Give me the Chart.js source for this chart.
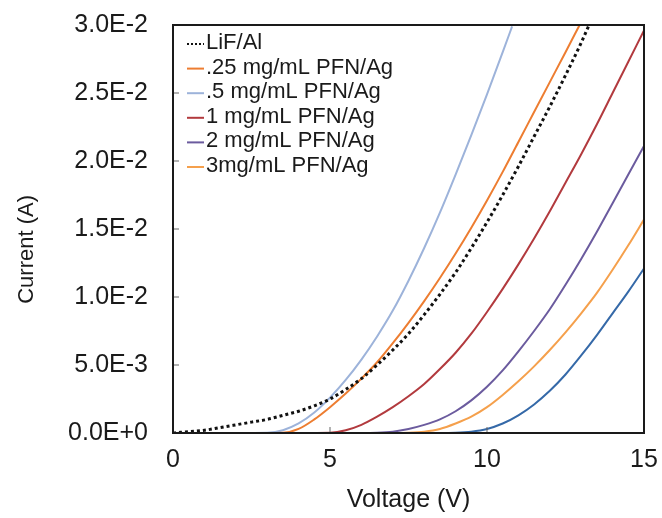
<!DOCTYPE html>
<html>
<head>
<meta charset="utf-8">
<script src="https://cdn.jsdelivr.net/npm/chart.js@4/dist/chart.umd.min.js"></script>
<style>
  body { margin: 0; background: #fff; }
  #wrap { width: 662px; height: 518px; }
</style>
</head>
<body>
<div id="wrap"><canvas id="chart" width="662" height="518"></canvas></div>
<script>
// Voltage (V) / current (A)
var lifV = [0, 0.5, 1, 1.5, 2, 2.5, 3, 3.5, 4, 4.5, 5, 5.5, 6, 6.5, 7, 7.5, 8, 8.5, 9, 9.5, 10, 10.5, 11, 11.5, 12, 12.5, 13, 13.25];
var lifI = [0, 0.0001, 0.0002, 0.0004, 0.0006, 0.0008, 0.0010, 0.0013, 0.0016, 0.0020, 0.0025, 0.0032, 0.0040, 0.0050, 0.0061, 0.0073, 0.0087, 0.0102, 0.0118, 0.0136, 0.0155, 0.0175, 0.0196, 0.0218, 0.0240, 0.0263, 0.0287, 0.0300];

var pfn025V = [0, 2, 3, 3.5, 4, 4.5, 5, 5.5, 6, 6.5, 7, 7.5, 8, 8.5, 9, 9.5, 10, 10.5, 11, 11.5, 12, 12.5, 12.95];
var pfn025I = [0, 0, 0, 0.00002, 0.0003, 0.0010, 0.0019, 0.0029, 0.0040, 0.0052, 0.0066, 0.0081, 0.0097, 0.0114, 0.0132, 0.0151, 0.0171, 0.0192, 0.0214, 0.0236, 0.0258, 0.0280, 0.0300];

var pfn05V = [0, 2, 3, 3.5, 4, 4.5, 5, 5.5, 6, 6.5, 7, 7.5, 8, 8.5, 9, 9.5, 10, 10.5, 10.8];
var pfn05I = [0, 0, 0.00002, 0.0002, 0.0007, 0.0015, 0.0026, 0.0039, 0.0054, 0.0071, 0.0090, 0.0112, 0.0136, 0.0162, 0.0190, 0.0219, 0.0249, 0.0280, 0.0299];

var pfn1V = [0, 4, 5, 5.5, 6, 6.5, 7, 7.5, 8, 8.5, 9, 9.5, 10, 10.5, 11, 11.5, 12, 12.5, 13, 13.5, 14, 14.5, 15];
var pfn1I = [0, 0, 0.00002, 0.0002, 0.0006, 0.0012, 0.0019, 0.0027, 0.0036, 0.0047, 0.0059, 0.0073, 0.0089, 0.0106, 0.0124, 0.0143, 0.0163, 0.0184, 0.0205, 0.0227, 0.0250, 0.0273, 0.0296];

var pfn2V = [0, 6, 6.5, 7, 7.5, 8, 8.5, 9, 9.5, 10, 10.5, 11, 11.5, 12, 12.5, 13, 13.5, 14, 14.5, 15];
var pfn2I = [0, 0, 0.00002, 0.0001, 0.0003, 0.0006, 0.0010, 0.0016, 0.0024, 0.0034, 0.0046, 0.0060, 0.0075, 0.0091, 0.0109, 0.0128, 0.0148, 0.0169, 0.0190, 0.0211];

var pfn3V = [0, 7, 7.5, 8, 8.5, 9, 9.5, 10, 10.5, 11, 11.5, 12, 12.5, 13, 13.5, 14, 14.5, 15];
var pfn3I = [0, 0, 0.00002, 0.0001, 0.0003, 0.0007, 0.0012, 0.0019, 0.0028, 0.0038, 0.0049, 0.0061, 0.0074, 0.0088, 0.0103, 0.0120, 0.0138, 0.0157];

// curve with no legend entry
var extraV = [0, 8.5, 9, 9.5, 10, 10.5, 11, 11.5, 12, 12.5, 13, 13.5, 14, 14.5, 15];
var extraI = [0, 0, 0.00002, 0.0001, 0.0003, 0.0007, 0.0013, 0.0021, 0.0031, 0.0043, 0.0057, 0.0072, 0.0088, 0.0104, 0.0121];

var xTicks = [0, 5, 10, 15];

var FONT = "'Liberation Sans', Arial, sans-serif";

function pts(xs, ys) {
  var out = [];
  for (var i = 0; i < xs.length; i++) out.push({ x: xs[i], y: ys[i] });
  return out;
}

function series(label, xs, ys, color, extra) {
  var ds = {
    label: label,
    data: pts(xs, ys),
    borderColor: color,
    backgroundColor: color,
    borderWidth: 2,
    pointRadius: 0,
    fill: false,
    cubicInterpolationMode: "monotone"
  };
  for (var k in extra || {}) ds[k] = extra[k];
  return ds;
}

// frame + inner tick marks + y title
var frame = {
  id: "frame",
  afterDatasetsDraw: function(chart) {
    var a = chart.chartArea, ctx = chart.ctx;
    var ys = chart.scales.y, xs = chart.scales.x;
    ctx.save();
    ctx.lineWidth = 1;
    ctx.strokeStyle = "#666";
    ys.ticks.forEach(function(t) {
      var p = ys.getPixelForValue(t.value);
      ctx.beginPath(); ctx.moveTo(a.left, p); ctx.lineTo(a.left + 6, p); ctx.stroke();
    });
    xTicks.forEach(function(v) {
      var p = xs.getPixelForValue(v);
      ctx.beginPath(); ctx.moveTo(p, a.bottom); ctx.lineTo(p, a.bottom - 6); ctx.stroke();
    });
    ctx.lineWidth = 2;
    ctx.strokeStyle = "#1a1a1a";
    ctx.strokeRect(a.left, a.top, a.right - a.left, a.bottom - a.top);

    ctx.translate(27, a.top + (a.bottom - a.top) * 0.55);
    ctx.rotate(-Math.PI / 2);
    ctx.font = "22px " + FONT;
    ctx.fillStyle = "#1a1a1a";
    ctx.textAlign = "center";
    ctx.textBaseline = "middle";
    ctx.fillText("Current (A)", 0, 0);
    ctx.restore();
  }
};

// legend inside the plot, top left
var insideLegend = {
  id: "insideLegend",
  afterDraw: function(chart) {
    var a = chart.chartArea, ctx = chart.ctx;
    var y = a.top + 18;
    ctx.save();
    ctx.font = "22px " + FONT;
    ctx.textBaseline = "middle";
    ctx.fillStyle = "#1a1a1a";
    chart.data.datasets.forEach(function(ds) {
      if (!ds.label) return;
      ctx.strokeStyle = ds.borderColor;
      ctx.lineWidth = 2;
      ctx.setLineDash(ds.borderDash ? [2, 2] : []);
      ctx.beginPath();
      ctx.moveTo(a.left + 14, y + 1);
      ctx.lineTo(a.left + 31, y + 1);
      ctx.stroke();
      ctx.setLineDash([]);
      ctx.fillText(ds.label, a.left + 33, y);
      y += 24.6;
    });
    ctx.restore();
  }
};

var ctx = document.getElementById("chart").getContext("2d");
var chart = new Chart(ctx, {
  type: "line",
  data: {
    datasets: [
      series("LiF/Al", lifV, lifI, "#111111", { borderDash: [3, 3], borderWidth: 3 }),
      series(".25 mg/mL PFN/Ag", pfn025V, pfn025I, "#ED7D31"),
      series(".5 mg/mL PFN/Ag", pfn05V, pfn05I, "#9DB3DA"),
      series("1 mg/mL PFN/Ag", pfn1V, pfn1I, "#B23A3E"),
      series("2 mg/mL PFN/Ag", pfn2V, pfn2I, "#6B5B9E"),
      series("3mg/mL PFN/Ag", pfn3V, pfn3I, "#F5A04C"),
      series("", extraV, extraI, "#3569A8")
    ]
  },
  options: {
    responsive: false,
    animation: false,
    layout: { padding: { top: 25, right: 18, left: 0, bottom: 0 } },
    plugins: {
      tooltip: { enabled: false },
      legend: { display: false }
    },
    scales: {
      x: {
        type: "linear",
        min: 0,
        max: 15,
        afterBuildTicks: function(axis) {
          axis.ticks = xTicks.map(function(v) { return { value: v }; });
        },
        afterFit: function(axis) {
          axis.height = 85;
          axis.paddingLeft = 0;
          axis.paddingRight = 0;
        },
        grid: { display: false, drawTicks: false },
        border: { display: false },
        ticks: {
          padding: 12,
          maxRotation: 0,
          color: "#1a1a1a",
          font: { family: FONT, size: 25 }
        },
        title: {
          display: true,
          text: "Voltage (V)",
          color: "#1a1a1a",
          padding: { top: 0, bottom: 3 },
          font: { family: FONT, size: 25 }
        }
      },
      y: {
        min: 0,
        max: 0.03,
        afterFit: function(axis) {
          axis.width = 173;
          axis.paddingTop = 0;
          axis.paddingBottom = 0;
        },
        grid: { display: false, drawTicks: false },
        border: { display: false },
        ticks: {
          stepSize: 0.005,
          padding: 25,
          color: "#1a1a1a",
          font: { family: FONT, size: 25 },
          callback: function(v) { return Number(v).toExponential(1).replace("e", "E"); }
        }
      }
    }
  },
  plugins: [frame, insideLegend]
});
</script>
</body>
</html>
